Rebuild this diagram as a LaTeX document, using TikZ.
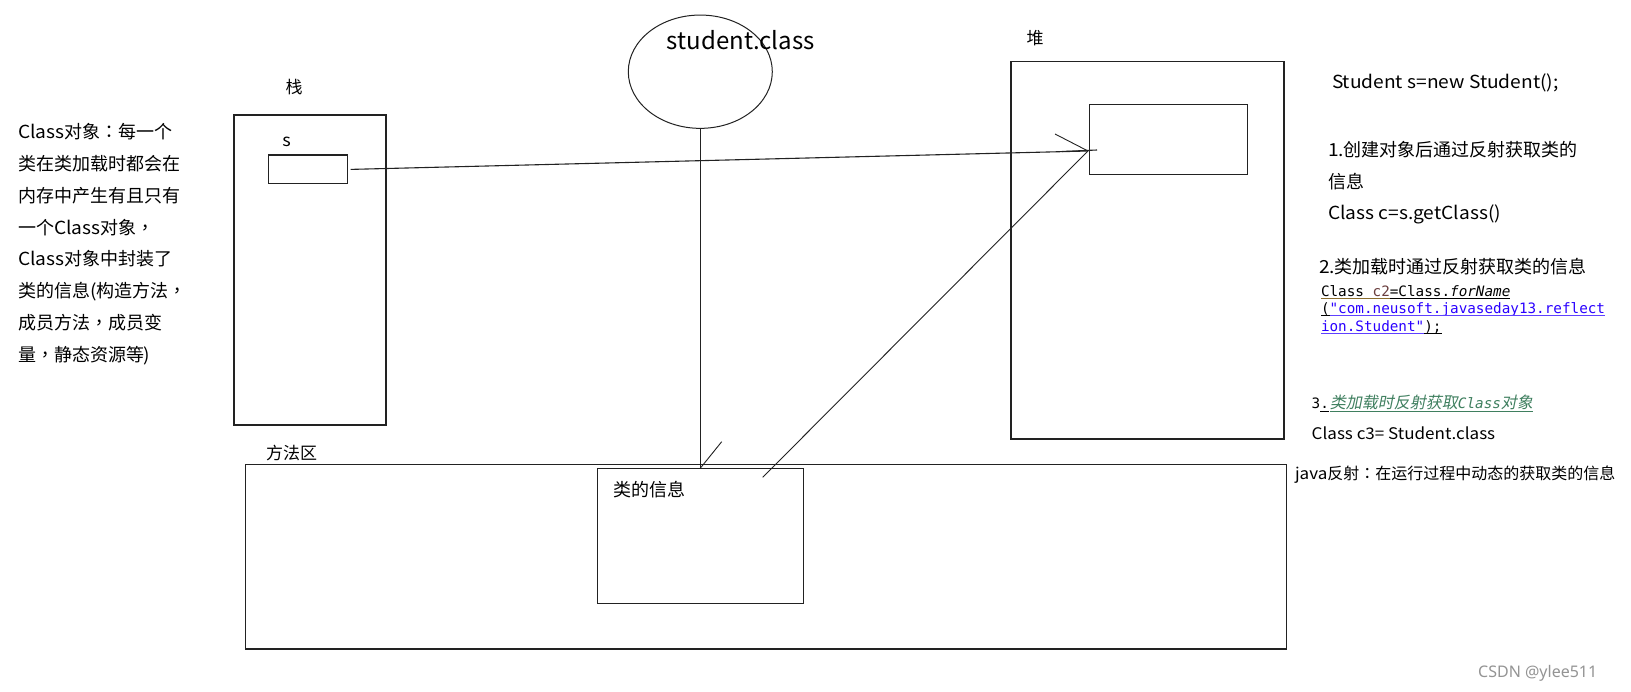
\documentclass[tikz,border=0pt]{standalone}
\usepackage{fontspec}
\usetikzlibrary{shapes.geometric}
\setmainfont{Noto Sans CJK SC}
\newfontfamily\cjkit{Noto Sans CJK SC}[FakeSlant=0.2]
\newfontfamily\latf{Noto Sans CJK SC}[FakeStretch=1.065]
\newfontfamily\tcf{Noto Sans CJK TC}
\newfontfamily\mono{DejaVu Sans Mono}
\newfontfamily\wmfont{Noto Sans}
\newcommand\lt[1]{{\latf #1}}
\newcommand\pc[1]{{\tcf #1}}
\definecolor{cvar}{HTML}{6A3E3E}
\definecolor{cstr}{HTML}{2A00FF}
\definecolor{culy}{HTML}{8B6D2E}
\definecolor{cgreen}{HTML}{3F7F5F}
\definecolor{cline}{HTML}{222222}
\begin{document}
\begin{tikzpicture}[x=1pt,y=-1pt,
  box/.style={draw=cline, line width=1.3pt, inner sep=0, outer sep=0, rectangle},
  conn/.style={draw=cline, line width=1.1pt},
  thin/.style={draw=cline, line width=0.9pt},
  txt/.style={inner sep=0, outer sep=0, anchor=base west, font=\fontsize{18}{20}\selectfont},
  stxt/.style={txt, font=\fontsize{16}{18}\selectfont},
  lbl/.style={inner sep=0, outer sep=0, font=\fontsize{17}{19}\selectfont},
  code/.style={inner sep=0, outer sep=0, anchor=base west, font=\fontsize{14.3}{16}\mono},
  ul/.style={line width=1pt}]
\useasboundingbox (0,0) rectangle (1631,692);
\fill[white] (0,0) rectangle (1631,692);

% boxes
\node[box, minimum width=152, minimum height=310] (stack) at (310,270) {};
\node[box, minimum width=79.4, minimum height=28.7] (sbox) at (308,169.4) {};
\node[box, minimum width=273, minimum height=377.3] (heap) at (1147.5,250.3) {};
\node[box, minimum width=158.4, minimum height=70] (obj) at (1168.5,139.3) {};
\node[box, minimum width=1041.2, minimum height=184.7] (method) at (766.1,556.7) {};
\node[box, minimum width=206, minimum height=135] (info) at (700.3,535.7) {};
\node[draw=cline, line width=1pt, ellipse, inner sep=0, minimum width=144, minimum height=113.3] (cls) at (700.3,71.7) {};

% labels
\node[lbl] (lstack) at (294,86.7) {栈};
\node[lbl] (ls) at (286.7,142) {\lt{s}};
\node[lbl] (lheap) at (1035,38) {堆};
\node[lbl, anchor=base west] (lmethod) at (266,460) {方法区};
\node[txt] (linfo) at (613,496.5) {类的信息};
\node[inner sep=0, anchor=base west, font=\fontsize{24}{26}\selectfont] (lcls) at (666.7,50) {student.class};

% connectors
\coordinate (tip) at (1088,151);
\coordinate (barbA) at (1055,134);
\coordinate (segA) at (1062,151.5);
\coordinate (segB) at (1097,150);
\coordinate (dstart) at (762.7,477.3);
\coordinate (barbB) at (721.7,441.7);
\draw[conn] ([xshift=3pt]sbox.east) -- (tip);
\draw[thin] (tip) -- (barbA);
\draw[conn] (segA) -- (segB);
\draw[thin] (dstart) -- (tip);
\draw[conn] (cls.south) -- (info.north);
\draw[thin] (info.north) -- (barbB);

% left description
\foreach \t [count=\i] in {{\lt{Class}对象\pc{：}每一个},{类在类加载时都会在},{内存中产生有且只有},{一个\lt{Class}对象\pc{，}},{\lt{Class}对象中封装了},{类的信息\lt{(}构造方法\pc{，}},{成员方法\pc{，}成员变},{量\pc{，}静态资源等\lt{)}}}
  \node[txt] (left\i) at (18,{138.8+(\i-1)*31.8}) {\t};

% right description
\node[txt] (r0) at (1332,88.2) {\lt{Student s=new Student();}};
\node[txt] (r1) at (1328,156.5) {\lt{1.}创建对象后通过反射获取类的};
\node[txt] (r2) at (1328,188.2) {信息};
\node[txt] (r3) at (1328,219.8) {\lt{Class c=s.getClass()}};
\node[txt] (r4) at (1319,273.2) {\lt{2.}类加载时通过反射获取类的信息};

\def\cw{8.609}
\node[code] (c1) at (1321,296.5) {Class {\color{cvar}c2}=Class.{\itshape forName}};
\node[code] (c2) at (1321,313.8) {({\color{cstr}"com.neusoft.javaseday13.reflect}};
\node[code] (c3) at (1321,331.3) {{\color{cstr}ion.Student"});};
\draw[ul, culy] ([yshift=-2.2pt]c1.base west) -- ++(8*\cw,0);
\draw[ul, black] ([yshift=-2.2pt]c1.base west) ++(8*\cw,0) -- ++(14*\cw,0);
\draw[ul, black] ([yshift=-2.2pt]c2.base west) -- ++(1*\cw,0);
\draw[ul, cstr!75] ([yshift=-2.2pt]c2.base west) ++(1*\cw,0) -- ++(32*\cw,0);
\draw[ul, cstr!75] ([yshift=-2.2pt]c3.base west) -- ++(12*\cw,0);
\draw[ul, black] ([yshift=-2.2pt]c3.base west) ++(12*\cw,0) -- ++(2*\cw,0);

\node[code] (t3a) at (1311.7,409) {3};
\node[code, anchor=base west] (t3b) at (t3a.base east) {.};
\node[inner sep=0, outer sep=0, anchor=base west, font=\fontsize{16}{18}\cjkit, text=cgreen] (t3c) at ([xshift=1pt]t3b.base east) {类加载时反射获取{\mono\itshape\fontsize{14.3}{16}\selectfont Class}对象};
\draw[ul, black] ([yshift=-2.2pt]t3b.base west) -- ([yshift=-2.2pt]t3b.base east);
\draw[ul, cgreen] ([yshift=-2.2pt]t3c.base west) -- ([yshift=-2.2pt]t3c.base east);

\node[stxt] (r5) at (1311.7,439.3) {\lt{Class c3= Student.class}};
\node[stxt] (r6) at (1295,479.3) {\lt{java}反射\pc{：}在运行过程中动态的获取类的信息};

\node[inner sep=0, anchor=base west, font=\fontsize{16}{18}\wmfont, text=black!42] (wm) at (1478,677.5) {CSDN @ylee511};
\end{tikzpicture}
\end{document}
